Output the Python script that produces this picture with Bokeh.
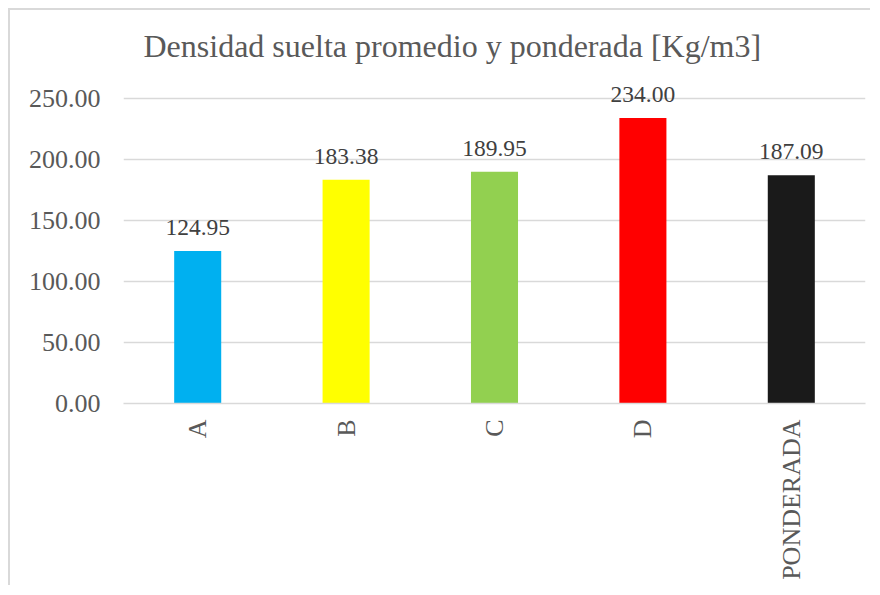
from bokeh.plotting import figure
from bokeh.models import ColumnDataSource, FixedTicker, PrintfTickFormatter, Title, LabelSet
from bokeh.embed import file_html
from bokeh.resources import INLINE
import math

categories = ["A", "B", "C", "D", "PONDERADA"]
densities = [124.95, 183.38, 189.95, 234.00, 187.09]
bar_colors = ["#00B0F0", "#FFFF00", "#92D050", "#FF0000", "#1A1A1A"]
y_ticks = [0, 50, 100, 150, 200, 250]
title_text = "Densidad suelta promedio y ponderada [Kg/m3]"

FONT = "Liberation Serif"

# frame: 250 units -> 305 px; extra headroom so the top data label is not clipped
PX_PER_UNIT = 305 / 250
TOP_BORDER = 62
HEIGHT = 577
BOTTOM_BORDER = 184
y_end = (HEIGHT - TOP_BORDER - BOTTOM_BORDER) / PX_PER_UNIT

source = ColumnDataSource(dict(
    cat=categories,
    val=densities,
    color=bar_colors,
    label=["%.2f" % v for v in densities],
))

p = figure(
    x_range=categories, y_range=(0, y_end),
    width=862, height=HEIGHT,
    output_backend="svg", toolbar_location=None,
    min_border_left=113, min_border_right=7,
    min_border_top=TOP_BORDER, min_border_bottom=BOTTOM_BORDER,
)
p.styles = {"border-left": "2px solid #D9D9D9", "border-top": "2px solid #D9D9D9",
            "margin-left": "8px", "margin-top": "8px"}

t = Title(text=title_text, align="left", offset=20, text_font=FONT, text_font_size="32px",
          text_color="#595959", text_font_style="normal", standoff=17)
p.add_layout(t, "above")

p.vbar(x="cat", top="val", width=0.317, color="color", line_color=None, source=source)

labels = LabelSet(x="cat", y="val", text="label", source=source, text_align="center",
                  text_baseline="alphabetic", y_offset=16, text_font=FONT,
                  text_font_size="23.5px", text_color="#404040")
p.add_layout(labels)

p.outline_line_color = None
p.background_fill_color = "white"
p.border_fill_color = "white"

p.xgrid.grid_line_color = None
p.ygrid.grid_line_color = "#D9D9D9"
p.ygrid.grid_line_width = 1.5
p.ygrid.ticker = FixedTicker(ticks=y_ticks)

p.yaxis.ticker = FixedTicker(ticks=y_ticks)
p.yaxis.formatter = PrintfTickFormatter(format="%.2f")
p.yaxis.axis_line_color = None
p.yaxis.major_tick_line_color = None
p.yaxis.minor_tick_line_color = None
p.yaxis.major_tick_out = 0
p.yaxis.major_label_standoff = 23
p.yaxis.major_label_text_font = FONT
p.yaxis.major_label_text_font_size = "26px"
p.yaxis.major_label_text_color = "#595959"

p.xaxis.axis_line_color = "#D9D9D9"
p.xaxis.axis_line_width = 1.5
p.xaxis.major_tick_line_color = None
p.xaxis.minor_tick_line_color = None
p.xaxis.major_tick_out = 0
p.xaxis.major_label_standoff = 16
p.xaxis.major_label_orientation = math.pi / 2
p.xaxis.major_label_text_font = FONT
p.xaxis.major_label_text_font_size = "26px"
p.xaxis.major_label_text_color = "#595959"

open("out.html", "w").write(file_html(p, INLINE))
